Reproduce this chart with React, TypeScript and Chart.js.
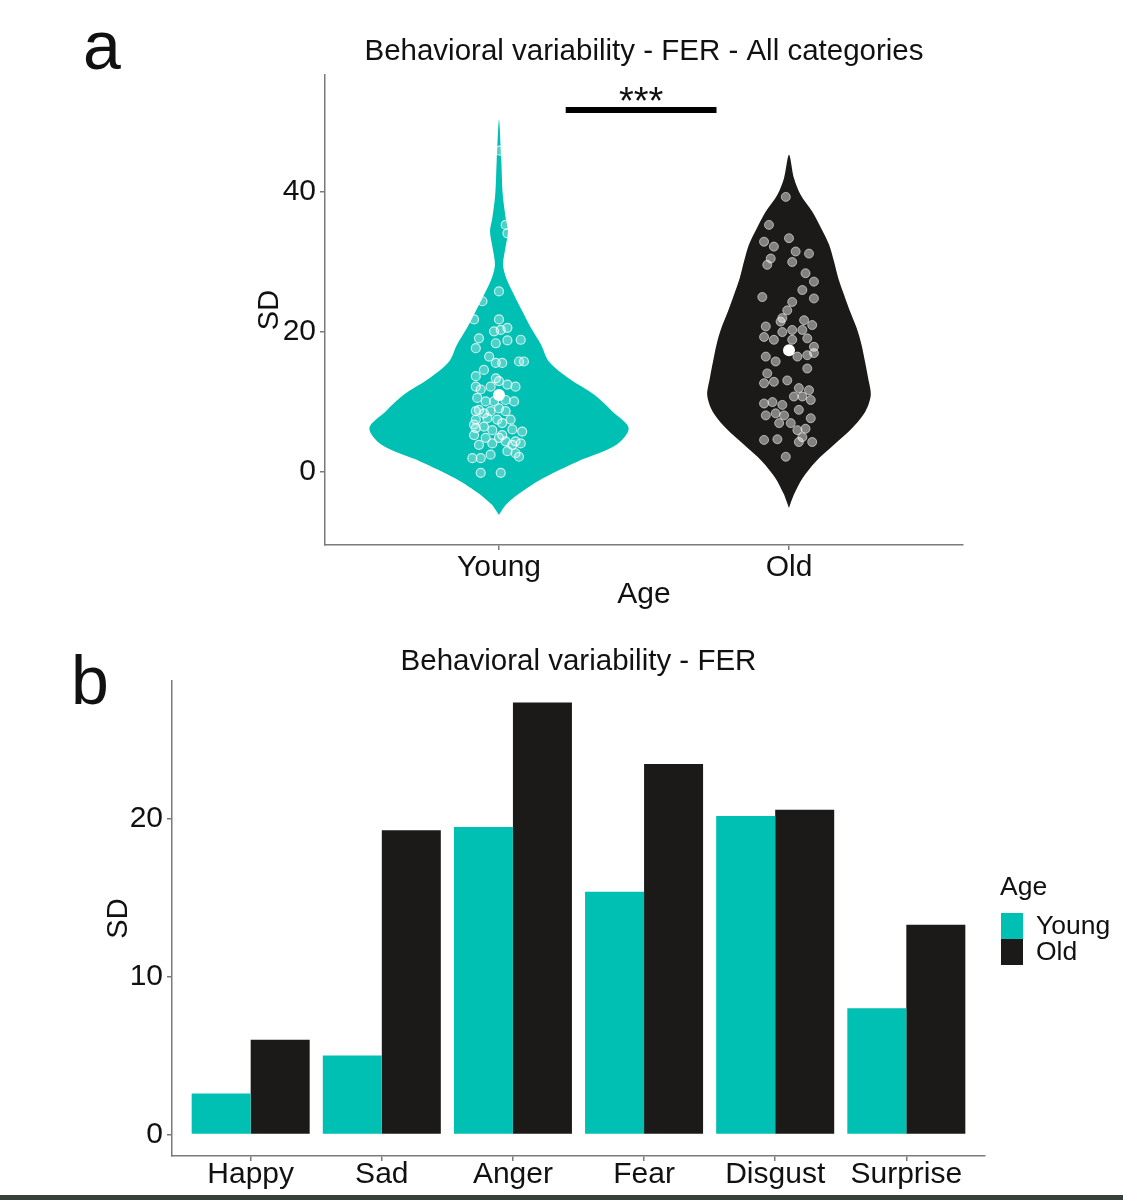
import { useEffect, useRef } from "react";
import { Chart, registerables } from "chart.js";

Chart.register(...registerables);

const FONT = "'Liberation Sans', Arial, Helvetica, sans-serif";
const TEAL = "#00BFB3";
const DARK = "#1B1A18";
const AXIS = "#7a7a7a";
const INK = "#111111";

// ---- panel a: violin + jitter ----
const titleA = "Behavioral variability - FER - All categories";
const ageGroups = ["Young", "Old"];
const sigLabel = "***";
const sigBarX = [1.23, 1.75];
const sigBarY = 51.7;

// density outline: value (SD) and half width (in group units)
const youngDensityY = [-6.1, -4.7, -3.2, -0.9, 1.5, 3.9, 6.3, 8.7, 11.0, 13.4, 15.8, 18.2, 20.6, 23.0, 25.3, 27.7, 29.6, 32.0, 34.4, 36.3, 39.6, 44.4, 50.3];
const youngHalfWidth = [0, 0.023, 0.065, 0.15, 0.27, 0.405, 0.447, 0.39, 0.33, 0.24, 0.172, 0.145, 0.11, 0.08, 0.052, 0.025, 0.014, 0.022, 0.031, 0.023, 0.013, 0.008, 0];
const oldDensityY = [-5.1, -3.2, -0.9, 1.5, 3.9, 6.3, 8.7, 11.0, 13.4, 15.8, 18.2, 20.6, 23.0, 25.3, 27.7, 30.1, 32.5, 34.9, 37.2, 39.6, 42.0, 45.3];
const oldHalfWidth = [0, 0.017, 0.046, 0.092, 0.155, 0.218, 0.264, 0.282, 0.273, 0.262, 0.25, 0.233, 0.21, 0.19, 0.17, 0.155, 0.138, 0.11, 0.08, 0.04, 0.017, 0];

const youngPointY = [45.9, 35.3, 34.1, 25.8, 24.4, 21.8, 21.8, 19.1, 17.7, 20.1, 20.3, 20.6, 18.4, 18.8, 18.9, 16.5, 15.6, 15.6, 15.8, 15.8, 14.6, 13.7, 13.4, 12.2, 11.8, 12.2, 13.0, 12.5, 12.2, 10.6, 10.1, 10.1, 10.3, 10.1, 8.9, 8.7, 9.1, 8.7, 7.5, 7.7, 7.5, 6.3, 6.0, 6.1, 5.3, 4.9, 4.9, 4.4, 4.4, 5.8, 3.9, 4.1, 4.1, 3.0, 2.7, 2.2, 2.0, 2.0, 2.5, -0.1, -0.1, 6.8, 6.5, 7.0, 7.5, 8.4, 5.3, 3.9, 8.7];
const youngJitter = [0.003, 0.023, 0.029, 0, -0.057, -0.086, 0, -0.069, -0.08, -0.017, 0.006, 0.029, -0.011, 0.029, 0.075, -0.034, -0.011, 0.011, 0.069, 0.086, -0.052, -0.08, -0.011, -0.08, -0.063, -0.029, 0, 0.029, 0.057, -0.075, -0.046, -0.017, 0.023, 0.052, -0.069, -0.029, 0, 0.023, -0.08, -0.04, -0.006, -0.08, -0.023, 0.046, -0.086, -0.046, 0, 0.023, 0.057, 0.08, -0.069, -0.023, 0.075, 0.029, 0.057, 0.069, -0.092, -0.063, -0.029, -0.063, 0.006, -0.086, -0.052, 0.011, 0.04, -0.052, 0.011, 0.046, -0.08];
const oldPointY = [32.9, 32.2, 33.4, 31.5, 31.2, 30.5, 29.6, 30.0, 28.4, 27.2, 26.0, 24.8, 25.0, 24.3, 23.1, 22.0, 20.8, 21.5, 20.3, 21.7, 21.0, 19.3, 18.9, 20.0, 20.3, 18.9, 19.1, 17.9, 16.5, 16.7, 17.0, 16.5, 15.8, 14.1, 14.8, 12.7, 12.9, 13.1, 12.0, 11.7, 10.8, 10.8, 9.8, 10.0, 9.6, 10.3, 8.1, 8.4, 8.1, 8.9, 7.7, 7.0, 7.0, 6.0, 6.2, 5.0, 4.3, 4.6, 4.7, 4.3, 2.2, 35.3, 39.3];
const oldJitter = [-0.086, -0.052, 0, 0.023, 0.069, -0.063, -0.075, 0.011, 0.057, 0.086, 0.046, 0.086, -0.092, 0.011, -0.006, -0.023, -0.08, -0.029, 0.011, 0.052, 0.08, -0.086, -0.052, -0.023, 0.046, 0.011, 0.063, 0.086, 0.029, 0.063, 0.086, -0.08, -0.046, -0.075, 0.063, -0.086, -0.052, -0.006, 0.034, 0.069, 0.017, 0.046, -0.086, -0.057, -0.023, 0.075, -0.08, -0.046, -0.017, 0.034, 0.075, -0.034, 0.006, 0.029, 0.057, 0.046, 0.08, -0.086, -0.04, 0.034, -0.011, -0.069, -0.011];
const groupMeans = [11.0, 17.4];

// ---- panel b: grouped bars ----
const titleB = "Behavioral variability - FER";
const emotions = ["Happy", "Sad", "Anger", "Fear", "Disgust", "Surprise"];
const youngSD = [2.6, 5.0, 19.5, 15.4, 20.2, 8.0];
const oldSD = [6.0, 19.3, 27.4, 23.5, 20.6, 13.3];
const legendTitle = "Age";

function violinOutline(center: number, ys: number[], ws: number[]) {
  const right = ys.map((y, i) => ({ x: center + ws[i], y }));
  const left = ys.map((y, i) => ({ x: center - ws[i], y })).reverse().slice(1, -1);
  return [...right, ...left];
}

function axisStyle(extra: any) {
  return {
    border: { display: true, color: AXIS, width: 1.5 },
    grid: { drawOnChartArea: false, drawTicks: true, tickLength: 5, color: AXIS, lineWidth: 1.5, offset: false },
    ...extra,
  };
}

function ViolinPanel() {
  const canvasRef = useRef<HTMLCanvasElement>(null);
  const chartRef = useRef<Chart | null>(null);

  useEffect(() => {
    if (!canvasRef.current) return;
    if (chartRef.current) chartRef.current.destroy();

    const textPlugin = {
      id: "violinText",
      afterDraw(chart: any) {
        const { ctx, chartArea, scales } = chart;
        ctx.save();
        ctx.fillStyle = INK;
        ctx.textAlign = "center";
        ctx.textBaseline = "middle";
        ctx.font = `29.5px ${FONT}`;
        ctx.fillText(titleA, (chartArea.left + chartArea.right) / 2, 52);
        ctx.textAlign = "left";
        ctx.textBaseline = "alphabetic";
        ctx.font = `68px ${FONT}`;
        ctx.fillText("a", 83, 69);
        const sx = scales.x.getPixelForValue((sigBarX[0] + sigBarX[1]) / 2);
        const sy = scales.y.getPixelForValue(sigBarY);
        ctx.textAlign = "center";
        ctx.font = `38px ${FONT}`;
        ctx.fillText(sigLabel, sx, sy + 4);
        ctx.restore();
      },
    };

    chartRef.current = new Chart(canvasRef.current, {
      type: "line",
      data: {
        datasets: [
          {
            data: groupMeans.map((y, i) => ({ x: i + 1, y })),
            showLine: false,
            pointRadius: 6,
            pointBackgroundColor: "#ffffff",
            pointBorderColor: "#ffffff",
            pointBorderWidth: 0,
            order: 0,
          },
          {
            data: youngPointY.map((y, i) => ({ x: 1 + youngJitter[i], y })),
            showLine: false,
            pointRadius: 4.5,
            pointBackgroundColor: "rgba(255,255,255,0.3)",
            pointBorderColor: "rgba(255,255,255,0.75)",
            pointBorderWidth: 1.2,
            order: 1,
          },
          {
            data: oldPointY.map((y, i) => ({ x: 2 + oldJitter[i], y })),
            showLine: false,
            pointRadius: 4.5,
            pointBackgroundColor: "rgba(255,255,255,0.45)",
            pointBorderColor: "rgba(255,255,255,0.55)",
            pointBorderWidth: 1,
            order: 1,
          },
          {
            data: sigBarX.map((x) => ({ x, y: sigBarY })),
            borderColor: "#000000",
            borderWidth: 6,
            pointRadius: 0,
            order: 1,
          },
          {
            data: violinOutline(1, youngDensityY, youngHalfWidth),
            borderWidth: 0,
            borderColor: "rgba(0,0,0,0)",
            backgroundColor: TEAL,
            fill: "shape",
            tension: 0.3,
            pointRadius: 0,
            order: 3,
          },
          {
            data: violinOutline(2, oldDensityY, oldHalfWidth),
            borderWidth: 0,
            borderColor: "rgba(0,0,0,0)",
            backgroundColor: DARK,
            fill: "shape",
            tension: 0.3,
            pointRadius: 0,
            order: 3,
          },
        ],
      },
      options: {
        animation: false,
        responsive: true,
        maintainAspectRatio: false,
        events: [],
        layout: { padding: { left: 245, right: 160, top: 75, bottom: 0 } },
        plugins: { legend: { display: false }, tooltip: { enabled: false }, title: { display: false } },
        scales: {
          x: axisStyle({
            type: "linear",
            min: 0.4,
            max: 2.6,
            afterBuildTicks: (s: any) => {
              s.ticks = ageGroups.map((_, i) => ({ value: i + 1 }));
            },
            afterFit: (s: any) => {
              s.height = 75;
            },
            ticks: {
              color: INK,
              font: { family: FONT, size: 30 },
              padding: 0,
              maxRotation: 0,
              callback: (v: any) => ageGroups[Math.round(v) - 1] ?? "",
            },
            title: { display: true, text: "Age", color: INK, font: { family: FONT, size: 30 }, padding: { top: 0, bottom: 7 } },
          }),
          y: axisStyle({
            type: "linear",
            min: -10.4,
            max: 56.7,
            afterBuildTicks: (s: any) => {
              s.ticks = [0, 20, 40].map((value) => ({ value }));
            },
            afterFit: (s: any) => {
              s.width = 80;
            },
            ticks: { color: INK, font: { family: FONT, size: 30 }, padding: 4 },
            title: { display: true, text: "SD", color: INK, font: { family: FONT, size: 29 }, padding: { top: 8, bottom: 0 } },
          }),
        },
      },
      plugins: [textPlugin],
    } as any);

    return () => {
      if (chartRef.current) {
        chartRef.current.destroy();
        chartRef.current = null;
      }
    };
  }, []);

  return (
    <div style={{ position: "absolute", left: 0, top: 0, width: 1123, height: 620 }}>
      <canvas ref={canvasRef} />
    </div>
  );
}

function BarPanel() {
  const canvasRef = useRef<HTMLCanvasElement>(null);
  const chartRef = useRef<Chart | null>(null);

  useEffect(() => {
    if (!canvasRef.current) return;
    if (chartRef.current) chartRef.current.destroy();

    const textPlugin = {
      id: "barText",
      afterDraw(chart: any) {
        const { ctx, chartArea } = chart;
        ctx.save();
        ctx.fillStyle = INK;
        ctx.textAlign = "center";
        ctx.textBaseline = "middle";
        ctx.font = `29.5px ${FONT}`;
        ctx.fillText(titleB, (chartArea.left + chartArea.right) / 2, 42);
        ctx.textAlign = "left";
        ctx.textBaseline = "alphabetic";
        ctx.font = `68px ${FONT}`;
        ctx.fillText("b", 71, 84);
        // legend
        const lx = chartArea.right + 16;
        ctx.font = `26.5px ${FONT}`;
        ctx.textBaseline = "middle";
        ctx.fillText(legendTitle, lx - 1, 268);
        chart.data.datasets.forEach((ds: any, i: number) => {
          const top = 293 + i * 26;
          ctx.fillStyle = ds.backgroundColor;
          ctx.fillRect(lx, top, 22, 26);
          ctx.fillStyle = INK;
          ctx.fillText(ds.label, lx + 35, top + 14);
        });
        ctx.restore();
      },
    };

    chartRef.current = new Chart(canvasRef.current, {
      type: "bar",
      data: {
        datasets: [
          {
            label: ageGroups[0],
            data: youngSD.map((y, i) => ({ x: i + 1, y })),
            backgroundColor: TEAL,
            borderWidth: 0,
          },
          {
            label: ageGroups[1],
            data: oldSD.map((y, i) => ({ x: i + 1, y })),
            backgroundColor: DARK,
            borderWidth: 0,
          },
        ],
      },
      options: {
        animation: false,
        responsive: true,
        maintainAspectRatio: false,
        events: [],
        layout: { padding: { left: 90, right: 138, top: 61, bottom: 0 } },
        datasets: { bar: { categoryPercentage: 0.9, barPercentage: 1.0 } },
        plugins: { legend: { display: false }, tooltip: { enabled: false }, title: { display: false } },
        scales: {
          x: axisStyle({
            type: "linear",
            offset: false,
            min: 0.4,
            max: 6.6,
            afterBuildTicks: (s: any) => {
              s.ticks = emotions.map((_, i) => ({ value: i + 1 }));
            },
            afterFit: (s: any) => {
              s.height = 44;
            },
            ticks: {
              color: INK,
              font: { family: FONT, size: 30 },
              padding: -4,
              maxRotation: 0,
              autoSkip: false,
              callback: (v: any) => emotions[Math.round(v) - 1] ?? "",
            },
          }),
          y: axisStyle({
            type: "linear",
            min: -1.37,
            max: 28.77,
            afterBuildTicks: (s: any) => {
              s.ticks = [0, 10, 20].map((value) => ({ value }));
            },
            afterFit: (s: any) => {
              s.width = 82;
            },
            ticks: { color: INK, font: { family: FONT, size: 30 }, padding: 4 },
            title: { display: true, text: "SD", color: INK, font: { family: FONT, size: 29 }, padding: { top: 12, bottom: 0 } },
          }),
        },
      },
      plugins: [textPlugin],
    } as any);

    return () => {
      if (chartRef.current) {
        chartRef.current.destroy();
        chartRef.current = null;
      }
    };
  }, []);

  return (
    <div style={{ position: "absolute", left: 0, top: 620, width: 1123, height: 580 }}>
      <canvas ref={canvasRef} />
    </div>
  );
}

export default function App() {
  useEffect(() => {
    document.body.style.margin = "0";
  }, []);

  return (
    <div style={{ position: "relative", width: 1123, height: 1200, background: "#ffffff", overflow: "hidden" }}>
      <ViolinPanel />
      <BarPanel />
      <div style={{ position: "absolute", left: 0, top: 1195, width: 1123, height: 5, background: "#34423a" }} />
    </div>
  );
}
